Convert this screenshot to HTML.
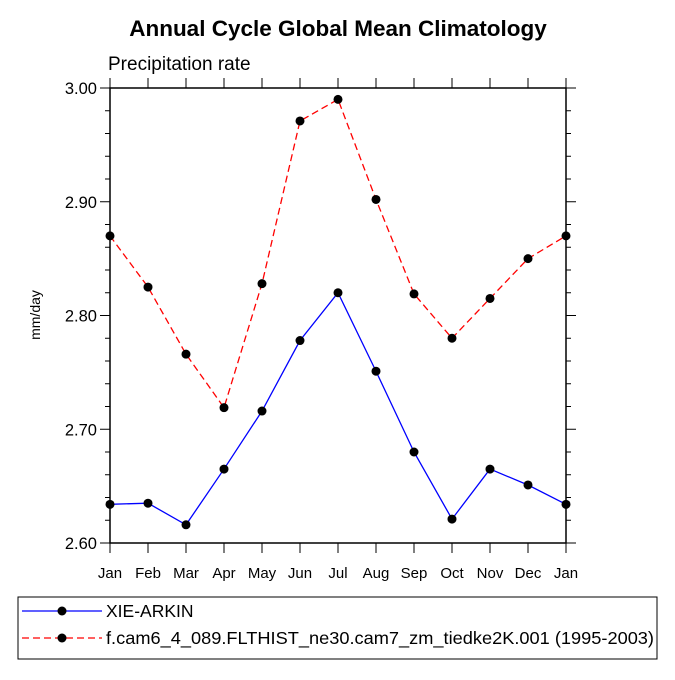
<!DOCTYPE html>
<html><head><meta charset="utf-8"><style>body{margin:0;background:#fff}</style></head><body>
<svg id="c" width="675" height="675" xmlns="http://www.w3.org/2000/svg" font-family="Liberation Sans, sans-serif">
<text x="338" y="36" text-anchor="middle" font-size="22.5" font-weight="bold">Annual Cycle Global Mean Climatology</text>
<text x="108" y="70" font-size="19">Precipitation rate</text>
<text transform="translate(40,315) rotate(-90)" text-anchor="middle" font-size="14">mm/day</text>
<g id="axes"></g><g id="series"></g>
<rect x="18" y="597" width="639" height="62" fill="none" stroke="#000" stroke-width="1"/>
<g>
<line x1="22" y1="611" x2="102" y2="611" stroke="#00f" stroke-width="1.3"/><circle cx="62" cy="611" r="4.5"/>
<text x="106" y="617" font-size="17.5">XIE-ARKIN</text></g>
<g>
<line x1="22" y1="638" x2="102" y2="638" stroke="#f00" stroke-width="1.3" stroke-dasharray="7,4"/><circle cx="62" cy="638" r="4.5"/>
<text x="106" y="644" font-size="17.5" textLength="548" lengthAdjust="spacingAndGlyphs">f.cam6_4_089.FLTHIST_ne30.cam7_zm_tiedke2K.001 (1995-2003)</text></g>
</svg>
<script>
const months=["Jan","Feb","Mar","Apr","May","Jun","Jul","Aug","Sep","Oct","Nov","Dec","Jan"];
const xieArkin=[2.634,2.635,2.616,2.665,2.716,2.778,2.820,2.751,2.680,2.621,2.665,2.651,2.634];
const cam6=[2.870,2.825,2.766,2.719,2.828,2.971,2.990,2.902,2.819,2.780,2.815,2.850,2.870];
const yTicks=[2.60,2.70,2.80,2.90,3.00];
const NS="http://www.w3.org/2000/svg";
const L=110,R=566,T=88,B=543,ymin=2.6,ymax=3.0;
const xs=i=>L+(R-L)*i/(months.length-1);
const ys=v=>B-(B-T)*(v-ymin)/(ymax-ymin);
function mk(tag,at,parent){const e=document.createElementNS(NS,tag);for(const k in at)e.setAttribute(k,at[k]);parent.appendChild(e);return e;}
const ax=document.getElementById('axes');
const frame=mk('rect',{x:L,y:T,width:R-L,height:B-T,fill:'none',stroke:'#000','stroke-width':1.5},ax);


for(let v=ymin;v<=ymax+1e-9;v+=0.02){
  const y=ys(v);const major=Math.abs(Math.round(v*10)-v*10)<1e-6;const len=major?10:5;
  mk('line',{x1:L-len,y1:y,x2:L,y2:y,stroke:'#000','stroke-width':1},ax);
  mk('line',{x1:R,y1:y,x2:R+len,y2:y,stroke:'#000','stroke-width':1},ax);
}
yTicks.forEach(v=>{const t=mk('text',{x:L-13,y:ys(v)+6,'text-anchor':'end','font-size':16.5},ax);t.textContent=v.toFixed(2);

});
months.forEach((m,i)=>{const x=xs(i);
  mk('line',{x1:x,y1:B,x2:x,y2:B+10,stroke:'#000','stroke-width':1},ax);
  mk('line',{x1:x,y1:T-10,x2:x,y2:T,stroke:'#000','stroke-width':1},ax);
  const t=mk('text',{x:x,y:B+35,'text-anchor':'middle','font-size':15},ax);t.textContent=m;
  
  });
const sg=document.getElementById('series');
function series(vals,color,dash,name){
  const g=mk('g',{},sg);
  
  
  const at={points:vals.map((v,i)=>xs(i)+','+ys(v)).join(' '),fill:'none',stroke:color,'stroke-width':1.3};
  if(dash)at['stroke-dasharray']=dash;
  mk('polyline',at,g);
  vals.forEach((v,i)=>{const c=mk('circle',{cx:xs(i),cy:ys(v),r:4.5,fill:'#000'},g);
  
  });
}
series(xieArkin,'#00f',null,'series-xie-arkin');
series(cam6,'#f00','7,4','series-cam6');
</script>
</body></html>
